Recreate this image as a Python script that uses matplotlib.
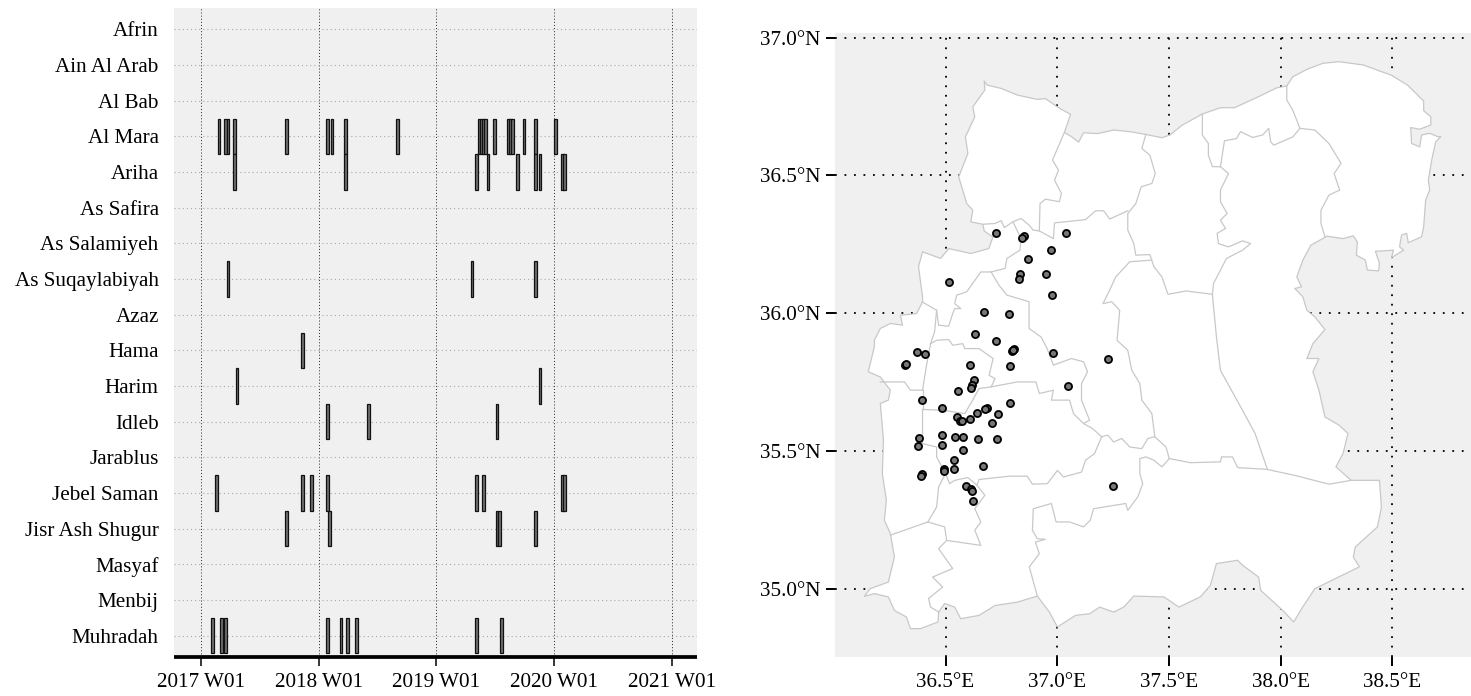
import matplotlib
matplotlib.use("Agg")
import matplotlib.pyplot as plt

plt.rcParams['font.family'] = ['Liberation Serif', 'DejaVu Serif']

W, H = 1471, 696

districts = ["Afrin", "Ain Al Arab", "Al Bab", "Al Mara", "Ariha", "As Safira", "As Salamiyeh",
             "As Suqaylabiyah", "Azaz", "Hama", "Harim", "Idleb", "Jarablus", "Jebel Saman",
             "Jisr Ash Shugur", "Masyaf", "Menbij", "Muhradah"]

# event weeks counted from 2017 W01, per district
al_mara_weeks = [8, 11, 12, 15, 38, 56, 58, 64, 87, 123, 124, 125, 126, 130, 136, 137, 138, 143, 148, 157]
ariha_weeks = [15, 64, 122, 127, 140, 148, 150, 160, 161]
suqaylabiyah_weeks = [12, 120, 148]
hama_weeks = [45]
harim_weeks = [16, 150]
idleb_weeks = [56, 74, 131]
jebel_saman_weeks = [7, 45, 49, 56, 122, 125, 160, 161]
jisr_weeks = [38, 57, 131, 132, 148]
muhradah_weeks = [5, 9, 11, 56, 62, 65, 69, 122, 133]

week_tick_pos = [0, 52.1, 104.2, 156.3, 208.4]
week_tick_labels = ["2017 W01", "2018 W01", "2019 W01", "2020 W01", "2021 W01"]

lon_ticks = [36.5, 37.0, 37.5, 38.0, 38.5]
lat_ticks = [35.0, 35.5, 36.0, 36.5, 37.0]

# event locations
event_lon = [36.725, 36.852, 36.843, 37.041, 36.973, 36.869, 36.948, 36.834, 36.831, 36.514, 36.977,
             36.673, 36.786, 36.631, 36.725, 36.808, 36.799, 36.802, 36.983, 36.372, 36.406, 37.226,
             36.320, 36.325, 36.608, 36.788, 36.628, 36.619, 36.615, 36.556, 37.050, 36.394, 36.790,
             36.486, 36.687, 36.678, 36.639, 36.736, 36.552, 36.563, 36.572, 36.610, 36.709, 36.486,
             36.379, 36.541, 36.576, 36.646, 36.732, 36.376, 36.484, 36.579, 36.536, 36.668, 36.540,
             36.493, 36.491, 36.394, 36.390, 37.248, 36.592, 36.615, 36.619, 36.624]
event_lat = [36.293, 36.282, 36.273, 36.292, 36.228, 36.196, 36.144, 36.141, 36.126, 36.114, 36.068,
             36.005, 35.996, 35.925, 35.901, 35.870, 35.862, 35.866, 35.856, 35.860, 35.854, 35.833,
             35.813, 35.815, 35.812, 35.808, 35.757, 35.739, 35.729, 35.718, 35.735, 35.685, 35.675,
             35.656, 35.658, 35.652, 35.637, 35.635, 35.623, 35.608, 35.611, 35.616, 35.601, 35.559,
             35.549, 35.550, 35.553, 35.544, 35.543, 35.519, 35.522, 35.503, 35.466, 35.445, 35.435,
             35.435, 35.427, 35.418, 35.409, 35.374, 35.373, 35.364, 35.357, 35.318]

# outline of the whole area (lon, lat)
outline = [
    (36.673, 36.843), (36.686, 36.828), (36.749, 36.816), (36.821, 36.792), (36.911, 36.776), (36.947, 36.779),
    (37.010, 36.744), (37.060, 36.722), (37.032, 36.656), (37.064, 36.641), (37.096, 36.621), (37.118, 36.655),
    (37.181, 36.652), (37.253, 36.665), (37.325, 36.659), (37.397, 36.649), (37.469, 36.637), (37.505, 36.647),
    (37.560, 36.683), (37.650, 36.723), (37.731, 36.746), (37.794, 36.746), (37.902, 36.786), (37.983, 36.818),
    (38.028, 36.825), (38.055, 36.858), (38.118, 36.885), (38.190, 36.907), (38.262, 36.913), (38.370, 36.901),
    (38.496, 36.864), (38.569, 36.828), (38.641, 36.770), (38.641, 36.735), (38.673, 36.713), (38.673, 36.683),
    (38.623, 36.668), (38.583, 36.674), (38.587, 36.616), (38.623, 36.604), (38.632, 36.647), (38.668, 36.653),
    (38.704, 36.641), (38.718, 36.641), (38.695, 36.622), (38.677, 36.556), (38.662, 36.483), (38.668, 36.447),
    (38.650, 36.411), (38.641, 36.314), (38.632, 36.278), (38.572, 36.256), (38.565, 36.290), (38.542, 36.284),
    (38.533, 36.241), (38.551, 36.229), (38.497, 36.202), (38.506, 36.229), (38.425, 36.225), (38.443, 36.181),
    (38.439, 36.154), (38.389, 36.157), (38.380, 36.193), (38.340, 36.211), (38.344, 36.259), (38.326, 36.281),
    (38.280, 36.271), (38.208, 36.280), (38.136, 36.247), (38.100, 36.193), (38.073, 36.132), (38.094, 36.096),
    (38.064, 36.090), (38.100, 36.060), (38.118, 36.011), (38.154, 35.987), (38.199, 35.941), (38.145, 35.890),
    (38.118, 35.836), (38.172, 35.836), (38.145, 35.788), (38.172, 35.721), (38.199, 35.624), (38.262, 35.594),
    (38.302, 35.564), (38.280, 35.491), (38.248, 35.443), (38.316, 35.394), (38.443, 35.394), (38.452, 35.297),
    (38.434, 35.225), (38.335, 35.152), (38.326, 35.116), (38.353, 35.080), (38.154, 35.001), (38.100, 34.935),
    (38.059, 34.880), (38.010, 34.922), (37.911, 34.995), (37.902, 35.043), (37.830, 35.086), (37.808, 35.104),
    (37.713, 35.092), (37.686, 35.013), (37.641, 34.971), (37.545, 34.934), (37.478, 34.971), (37.343, 34.974),
    (37.298, 34.934), (37.253, 34.916), (37.190, 34.934), (37.145, 34.910), (37.082, 34.904), (37.001, 34.862),
    (36.965, 34.916), (36.911, 34.974), (36.821, 34.952), (36.722, 34.940), (36.650, 34.904), (36.568, 34.892),
    (36.541, 34.934), (36.496, 34.947), (36.469, 34.916), (36.466, 34.880), (36.388, 34.856), (36.343, 34.856),
    (36.325, 34.898), (36.271, 34.922), (36.244, 34.971), (36.181, 34.983), (36.136, 34.973), (36.163, 35.001),
    (36.244, 35.025), (36.271, 35.116), (36.253, 35.201), (36.226, 35.249), (36.235, 35.322), (36.217, 35.418),
    (36.222, 35.540), (36.208, 35.673), (36.244, 35.685), (36.253, 35.721), (36.208, 35.769), (36.154, 35.788),
    (36.181, 35.878), (36.181, 35.902), (36.208, 35.945), (36.253, 35.963), (36.307, 35.957), (36.298, 35.993),
    (36.370, 35.999), (36.397, 36.041), (36.397, 36.060), (36.379, 36.169), (36.397, 36.223), (36.478, 36.199),
    (36.514, 36.235), (36.613, 36.217), (36.694, 36.235), (36.712, 36.277), (36.673, 36.299), (36.667, 36.323),
    (36.613, 36.332), (36.622, 36.374), (36.595, 36.398), (36.559, 36.495), (36.600, 36.580), (36.589, 36.640),
    (36.631, 36.713), (36.622, 36.749), (36.676, 36.810),
]

# inner district borders
borders = [
    [(37.032, 36.656), (36.979, 36.556), (37.006, 36.519), (36.988, 36.483), (37.019, 36.435), (37.010, 36.405),
     (36.947, 36.414), (36.923, 36.398), (36.920, 36.299)],
    [(36.667, 36.323), (36.722, 36.326), (36.749, 36.336), (36.763, 36.311), (36.802, 36.332), (36.838, 36.344),
     (36.874, 36.320), (36.892, 36.302), (36.920, 36.299), (36.983, 36.271), (36.988, 36.328), (37.127, 36.340),
     (37.172, 36.372), (37.208, 36.372), (37.235, 36.342), (37.316, 36.372)],
    [(37.397, 36.649), (37.379, 36.598), (37.415, 36.574), (37.439, 36.507), (37.424, 36.471), (37.376, 36.459),
     (37.352, 36.398), (37.316, 36.362), (37.316, 36.302), (37.343, 36.253), (37.352, 36.211), (37.415, 36.213),
     (37.433, 36.169), (37.469, 36.132), (37.496, 36.069), (37.577, 36.081), (37.695, 36.069)],
    [(37.650, 36.723), (37.650, 36.647), (37.677, 36.616), (37.677, 36.574), (37.695, 36.532), (37.731, 36.532),
     (37.767, 36.507), (37.731, 36.447), (37.731, 36.405), (37.761, 36.362), (37.731, 36.338), (37.754, 36.308),
     (37.716, 36.290), (37.722, 36.253), (37.767, 36.241), (37.830, 36.263), (37.866, 36.253), (37.830, 36.229),
     (37.758, 36.199), (37.700, 36.108), (37.695, 36.069), (37.713, 35.915), (37.731, 35.793), (37.830, 35.648),
     (37.886, 35.564), (37.940, 35.437)],
    [(37.731, 36.532), (37.749, 36.626), (37.803, 36.634), (37.821, 36.659), (37.875, 36.638), (37.920, 36.647),
     (37.947, 36.671), (37.956, 36.622), (37.970, 36.610), (38.055, 36.640), (38.087, 36.671)],
    [(38.028, 36.825), (38.028, 36.774), (38.055, 36.737), (38.087, 36.671), (38.154, 36.665), (38.217, 36.616),
     (38.271, 36.544), (38.240, 36.507), (38.265, 36.447), (38.217, 36.429), (38.181, 36.374), (38.181, 36.326),
     (38.199, 36.277)],
    [(37.424, 36.193), (37.325, 36.187), (37.262, 36.132), (37.235, 36.084), (37.205, 36.035), (37.244, 36.042),
     (37.280, 36.011), (37.268, 35.902), (37.316, 35.866), (37.334, 35.793), (37.370, 35.745), (37.379, 35.685),
     (37.424, 35.636), (37.437, 35.552), (37.487, 35.515), (37.502, 35.473), (37.469, 35.443), (37.433, 35.467),
     (37.397, 35.479), (37.370, 35.473), (37.370, 35.418), (37.383, 35.382), (37.361, 35.334), (37.316, 35.285),
     (37.307, 35.310), (37.253, 35.303), (37.163, 35.291), (37.148, 35.249), (37.118, 35.225), (37.055, 35.243),
     (36.995, 35.243), (36.974, 35.310), (36.893, 35.291), (36.889, 35.213), (36.911, 35.182), (36.947, 35.180),
     (36.902, 35.170), (36.920, 35.128), (36.875, 35.080), (36.911, 34.974)],
    [(37.437, 35.552), (37.406, 35.546), (37.379, 35.509), (37.325, 35.515), (37.289, 35.546), (37.253, 35.533),
     (37.226, 35.558), (37.199, 35.552)],
    [(37.502, 35.473), (37.596, 35.458), (37.731, 35.461), (37.736, 35.479), (37.785, 35.479), (37.808, 35.440),
     (37.938, 35.434), (38.064, 35.412), (38.217, 35.380), (38.316, 35.394)],
    [(37.199, 35.552), (37.167, 35.491), (37.127, 35.467), (37.109, 35.424), (37.028, 35.406), (37.001, 35.430),
     (36.956, 35.382), (36.889, 35.380), (36.866, 35.409), (36.785, 35.409), (36.650, 35.397), (36.641, 35.376),
     (36.600, 35.404), (36.541, 35.394), (36.518, 35.382), (36.500, 35.418), (36.460, 35.479), (36.460, 35.515),
     (36.397, 35.527), (36.397, 35.651)],
    [(37.199, 35.552), (37.158, 35.582), (37.118, 35.600), (37.073, 35.636), (37.055, 35.685), (36.974, 35.685),
     (36.983, 35.721), (36.920, 35.709), (36.905, 35.751), (36.821, 35.751), (36.704, 35.733), (36.650, 35.727),
     (36.613, 35.673), (36.586, 35.636), (36.493, 35.648), (36.401, 35.651)],
    [(36.208, 35.751), (36.316, 35.751), (36.343, 35.721), (36.397, 35.721), (36.415, 35.812), (36.433, 35.890),
     (36.451, 35.933), (36.460, 36.011), (36.397, 36.041)],
    [(36.397, 35.721), (36.397, 35.651)],
    [(36.433, 35.890), (36.460, 35.902), (36.514, 35.905), (36.532, 35.884), (36.577, 35.890), (36.586, 35.872),
     (36.650, 35.872), (36.713, 35.836), (36.695, 35.775), (36.722, 35.763), (36.704, 35.733)],
    [(36.460, 36.011), (36.469, 35.957), (36.514, 35.953), (36.532, 35.999), (36.541, 36.017), (36.568, 36.017),
     (36.541, 36.035), (36.550, 36.066), (36.595, 36.078), (36.658, 36.150), (36.704, 36.150), (36.739, 36.102),
     (36.775, 36.066), (36.874, 36.042), (36.874, 35.945), (36.928, 35.914), (36.955, 35.872), (36.983, 35.812),
     (37.064, 35.836), (37.118, 35.824), (37.136, 35.788), (37.109, 35.745), (37.109, 35.685), (37.145, 35.612),
     (37.118, 35.600)],
    [(36.704, 36.150), (36.767, 36.163), (36.775, 36.199), (36.833, 36.229), (36.838, 36.271), (36.802, 36.332)],
    [(36.500, 35.418), (36.469, 35.370), (36.460, 35.297), (36.421, 35.243), (36.253, 35.195)],
    [(36.421, 35.243), (36.496, 35.225), (36.505, 35.176), (36.658, 35.158), (36.631, 35.213), (36.658, 35.243),
     (36.631, 35.291), (36.676, 35.340), (36.641, 35.376)],
    [(36.505, 35.176), (36.469, 35.146), (36.532, 35.074), (36.442, 35.043), (36.487, 35.007), (36.424, 34.965),
     (36.433, 34.934), (36.469, 34.916)],
]

event_weeks = {
    "Al Mara": al_mara_weeks, "Ariha": ariha_weeks, "As Suqaylabiyah": suqaylabiyah_weeks,
    "Hama": hama_weeks, "Harim": harim_weeks, "Idleb": idleb_weeks, "Jebel Saman": jebel_saman_weeks,
    "Jisr Ash Shugur": jisr_weeks, "Muhradah": muhradah_weeks,
}

panel_grey = '#f0f0f0'
label_size = 15.2
fig = plt.figure(figsize=(W / 100, H / 100), dpi=100)

# --- Timeline panel ---
ax = fig.add_axes([174 / W, 1 - 657 / H, 523 / W, 649 / H])
ax.set_facecolor(panel_grey)
ax.set_axisbelow(True)
ax.grid(axis='x', color='#222222', lw=0.7, ls=(0, (1, 2.2)))
ax.grid(axis='y', color='#a8a8a8', lw=0.8, ls=(0, (1, 2.7)))
for name, weeks in event_weeks.items():
    row = districts.index(name)
    ax.bar(weeks, 1.0, bottom=row - 0.5, width=1.2, color='#707070', edgecolor='#111111', lw=0.9, zorder=3)
ax.set_yticks(range(len(districts)))
ax.set_yticklabels(districts)
ax.set_xticks(week_tick_pos)
ax.set_xticklabels(week_tick_labels)
ax.set_xlim(-11.9, 219.5)
ax.set_ylim(17.6, -0.6)
ax.tick_params(axis='y', length=0, pad=11, labelsize=label_size)
ax.tick_params(axis='x', length=6.3, width=1.1, pad=5.5, labelsize=label_size)
for s in ['top', 'left', 'right']:
    ax.spines[s].set_visible(False)
ax.spines['bottom'].set_linewidth(2.7)
ax.spines['bottom'].set_capstyle('butt')

# --- Map panel ---
ax_map = fig.add_axes([835 / W, 1 - 657 / H, 636 / W, 624 / H])
ax_map.set_facecolor(panel_grey)
ax_map.set_xticks(lon_ticks)
ax_map.set_xticklabels([f"{v:.1f}°E" for v in lon_ticks])
ax_map.set_yticks(lat_ticks)
ax_map.set_yticklabels([f"{v:.1f}°N" for v in lat_ticks])
ax_map.grid(color='black', lw=1.3, ls=(0, (1, 4.26)), zorder=1)
ax_map.set_axisbelow(True)
ax_map.fill(*zip(*outline), facecolor='white', edgecolor='#c8c8c8', lw=0.9, zorder=2, joinstyle='round')
for border in borders:
    ax_map.plot(*zip(*border), color='#c8c8c8', lw=0.9, zorder=2.5, solid_joinstyle='round')
ax_map.scatter(event_lon, event_lat, s=26, facecolor='#777777', edgecolor='black', lw=1.3, zorder=3)
ax_map.set_xlim(36.005, 38.853)
ax_map.set_ylim(34.753, 37.017)
ax_map.tick_params(axis='x', length=6.3, width=1.4, pad=5.5, labelsize=label_size)
ax_map.tick_params(axis='y', length=6.3, width=1.4, pad=4.2, labelsize=label_size)
for s in ax_map.spines.values():
    s.set_visible(False)

fig.savefig("out.png", dpi=100)
